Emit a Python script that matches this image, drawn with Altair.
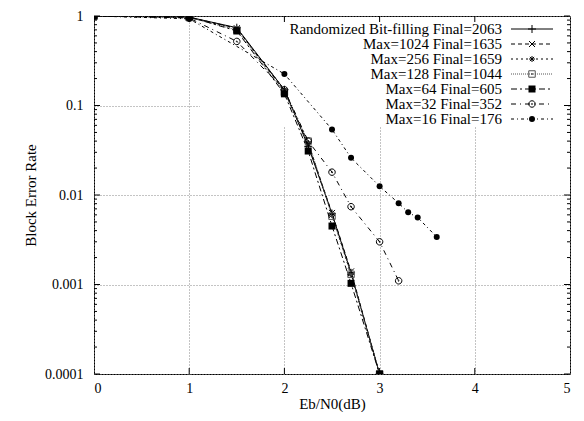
import altair as alt
import pandas as pd

# ---- data ----
x_main = [0, 1, 1.5, 2, 2.25, 2.5, 2.7, 3]
rand_bitfill = [1, 0.97, 0.74, 0.15, 0.035, 0.0062, 0.00135, 0.0001]
max1024 = [1, 0.97, 0.73, 0.145, 0.037, 0.0063, 0.0014, 0.0001]
max256 = [1, 0.96, 0.72, 0.15, 0.038, 0.006, 0.0013, 0.0001]
max128 = [1, 0.96, 0.70, 0.14, 0.040, 0.0058, 0.0013, 0.0001]
max64 = [1, 0.98, 0.68, 0.135, 0.031, 0.0045, 0.00103, 0.0001]

x_max32 = [0, 1, 1.5, 2, 2.25, 2.5, 2.7, 3, 3.2]
max32 = [1, 0.95, 0.52, 0.15, 0.040, 0.018, 0.0074, 0.0030, 0.0011]

x_max16 = [0, 1, 2, 2.5, 2.7, 3, 3.2, 3.3, 3.4, 3.6]
max16 = [1, 0.93, 0.225, 0.054, 0.026, 0.0125, 0.0081, 0.0064, 0.0056, 0.0034]

labels = [
    "Randomized Bit-filling Final=2063",
    "Max=1024 Final=1635",
    "Max=256 Final=1659",
    "Max=128 Final=1044",
    "Max=64 Final=605",
    "Max=32 Final=352",
    "Max=16 Final=176",
]

x_ticks = [0, 1, 2, 3, 4, 5]
y_ticks = [1, 0.1, 0.01, 0.001, 0.0001]
y_minor = [k * 10.0 ** e for e in (-4, -3, -2, -1) for k in (2, 3, 4, 5, 6, 7, 8, 9)]

# ---- styles ----
PLUS = "M-1,0L1,0M0,-1L0,1"
CROSS = "M-1,-1L1,1M-1,1L1,-1"
STAR = "M-1,0L1,0M0,-1L0,1M-0.7,-0.7L0.7,0.7M-0.7,0.7L0.7,-0.7"
BOXDOT = "M-1,-1L1,-1L1,1L-1,1Z M-0.15,-0.15L0.15,-0.15L0.15,0.15L-0.15,0.15Z"
CIRCDOT = "M-1,0A1,1,0,1,0,1,0A1,1,0,1,0,-1,0Z M-0.15,0A0.15,0.15,0,1,0,0.15,0A0.15,0.15,0,1,0,-0.15,0Z"

series = [
    (labels[0], x_main, rand_bitfill, None, PLUS, False, "black", 64),
    (labels[1], x_main, max1024, [4, 3], CROSS, False, "black", 36),
    (labels[2], x_main, max256, [2, 3], STAR, False, "black", 36),
    (labels[3], x_main, max128, [1, 1], BOXDOT, False, "#555555", 42),
    (labels[4], x_main, max64, [6, 3, 2, 3], "square", True, "black", 49),
    (labels[5], x_max32, max32, [5, 4, 1, 4], CIRCDOT, False, "black", 42),
    (labels[6], x_max16, max16, [3, 3, 1, 3], "circle", True, "black", 36),
]

W, H = 476, 358
FONT = "Liberation Serif, Times New Roman, DejaVu Serif, serif"

xscale = alt.Scale(domain=[0, 5], nice=False, zero=False)
yscale = alt.Scale(type="log", domain=[0.0001, 1], nice=False)
xaxis = alt.Axis(values=x_ticks, title="Eb/N0(dB)", grid=True, labelPadding=7,
                 titlePadding=1, format="d")
yaxis = alt.Axis(values=y_ticks, title="Block Error Rate", grid=True, labelPadding=11,
                 titlePadding=6, labelExpr="format(datum.value, '~g')")


def X():
    return alt.X("x:Q", scale=xscale, axis=xaxis)


def Y():
    return alt.Y("y:Q", scale=yscale, axis=yaxis)


one = pd.DataFrame({"k": [0]})
layers = []

KX = W - 68  # right edge of key labels

# opaque key box (hides grid under the legend)
layers.append(
    alt.Chart(one).mark_rect(color="white").encode(
        x=alt.value(KX - 302), x2=alt.value(W - 2), y=alt.value(1), y2=alt.value(111)
    )
)

# data lines and points
for name, xs, ys, dash, shape, filled, color, size in series:
    df = pd.DataFrame({"x": xs, "y": ys})
    line_kwargs = dict(color=color, strokeWidth=1, clip=True)
    if dash is not None:
        line_kwargs["strokeDash"] = dash
    layers.append(alt.Chart(df).mark_line(**line_kwargs).encode(x=X(), y=Y()))
    if filled:
        pt = alt.Chart(df).mark_point(shape=shape, filled=True, color=color, size=size,
                                      opacity=1, clip=True)
    else:
        pt = alt.Chart(df).mark_point(shape=shape, filled=False, color=color, size=size,
                                      strokeWidth=1, opacity=1, clip=True)
    layers.append(pt.encode(x=X(), y=Y()))

# inward tick marks (gnuplot style)
ymaj = pd.DataFrame({"y": y_ticks})
ymin = pd.DataFrame({"y": y_minor})
xmaj = pd.DataFrame({"x": x_ticks[1:-1]})
for df, ln in ((ymaj, 6), (ymin, 3)):
    layers.append(alt.Chart(df).mark_rule(color="black").encode(
        y=Y(), x=alt.value(0), x2=alt.value(ln)))
    layers.append(alt.Chart(df).mark_rule(color="black").encode(
        y=Y(), x=alt.value(W), x2=alt.value(W - ln)))
layers.append(alt.Chart(xmaj).mark_rule(color="black").encode(
    x=X(), y=alt.value(H), y2=alt.value(H - 6)))
layers.append(alt.Chart(xmaj).mark_rule(color="black").encode(
    x=X(), y=alt.value(0), y2=alt.value(6)))

# manual key (label left of sample, gnuplot style)
for i, (name, xs, ys, dash, shape, filled, color, size) in enumerate(series):
    yy = 13 + 15 * i
    layers.append(alt.Chart(one).mark_text(align="right", baseline="middle", font=FONT,
                                           fontSize=15, color="black").encode(
        x=alt.value(KX), y=alt.value(yy), text=alt.value(name)))
    rule_kwargs = dict(color=color, strokeWidth=1)
    if dash is not None:
        rule_kwargs["strokeDash"] = dash
    layers.append(alt.Chart(one).mark_rule(**rule_kwargs).encode(
        x=alt.value(KX + 9), x2=alt.value(KX + 51), y=alt.value(yy)))
    if filled:
        kp = alt.Chart(one).mark_point(shape=shape, filled=True, color=color, size=size, opacity=1)
    else:
        kp = alt.Chart(one).mark_point(shape=shape, filled=False, color=color, size=size,
                                       strokeWidth=1, opacity=1)
    layers.append(kp.encode(x=alt.value(KX + 30), y=alt.value(yy)))

chart = alt.layer(*layers).properties(
    width=W, height=H,
    autosize=alt.AutoSizeParams(type="none"),
    padding={"left": 86, "top": 8, "right": 6, "bottom": 38},
).configure_view(stroke="black", strokeWidth=1).configure_axis(
    labelFont=FONT, titleFont=FONT, labelFontSize=14, titleFontSize=15,
    titleFontWeight="normal", labelColor="black", titleColor="black",
    domain=False, ticks=False, gridColor="#888888", gridDash=[1, 2], gridWidth=1,
)

chart.save("out.html", embed_options={"renderer": "svg", "actions": False})
